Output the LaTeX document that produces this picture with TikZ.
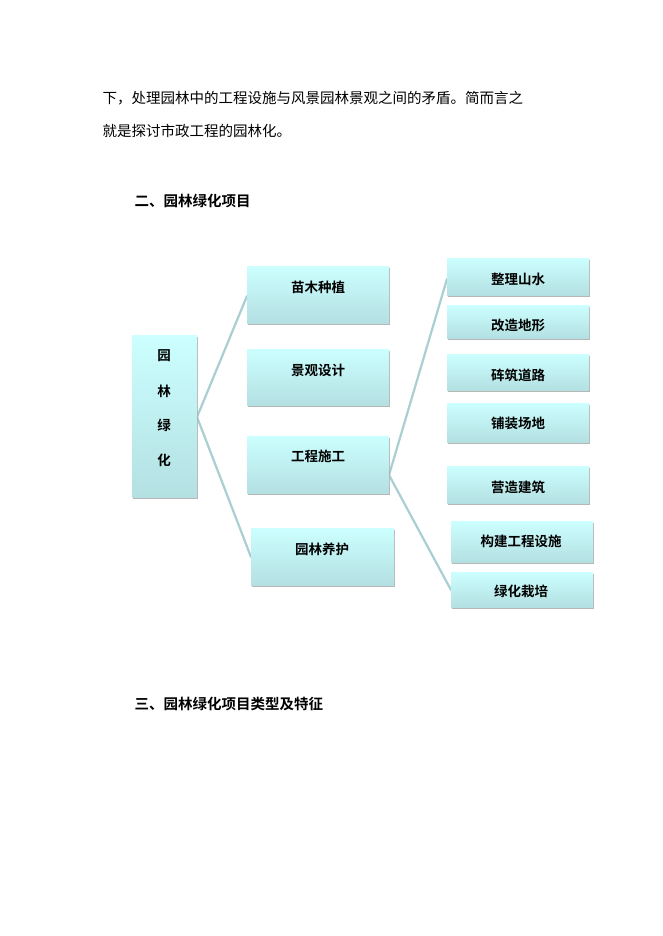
\documentclass[tikz,border=0pt]{standalone}
\usepackage{fontspec}
\setmainfont{Noto Sans CJK SC}
\newfontfamily\cjkbold{Noto Sans CJK SC Bold}
\usetikzlibrary{shadows}
\definecolor{boxtop}{HTML}{CCFFFF}
\definecolor{boxbot}{HTML}{B4E0E2}
\definecolor{linkcol}{HTML}{A9CFD3}
\tikzset{
  box/.style={inner sep=0pt,top color=boxtop,bottom color=boxbot,
    drop shadow={shadow xshift=0.8pt,shadow yshift=-1.5pt,fill=black!35,opacity=0.8}},
  boxtext/.style={font=\cjkbold\fontsize{13.5}{14}\selectfont},
  link/.style={draw=linkcol,line width=2.2pt}
}
\begin{document}
\begin{tikzpicture}[x=1pt,y=-1pt,line cap=round,line join=round]
\useasboundingbox[fill=white] (0,0) rectangle (662,936);
% body text
\node[anchor=west,font=\fontsize{14.5}{16}\selectfont] (para1) at (99,98) {下，处理园林中的工程设施与风景园林景观之间的矛盾。简而言之};
\node[anchor=west,font=\fontsize{14.5}{16}\selectfont] (para2) at (99,131) {就是探讨市政工程的园林化。};
\node[anchor=west,font=\cjkbold\fontsize{14.5}{16}\selectfont] (sec2) at (131,201) {二、园林绿化项目};
\node[anchor=west,font=\cjkbold\fontsize{14.5}{16}\selectfont] (sec3) at (131,704) {三、园林绿化项目类型及特征};
% links
\draw[link] (197,417) coordinate (rootout) -- (247,296) coordinate (in1);
\draw[link] (rootout) -- (251,557) coordinate (in4);
\draw[link] (389,475) coordinate (midout) -- (447,279) coordinate (inr1);
\draw[link] (midout) -- (451,590) coordinate (inr7);
% root
\path[box] (132,335) rectangle (197,497);
\node[boxtext] (root1) at (164,356) {园};
\node[boxtext] (root2) at (164,391) {林};
\node[boxtext] (root3) at (164,425) {绿};
\node[boxtext] (root4) at (164,460) {化};
% middle column
\path[box] (247,266) rectangle (389,323);
\node[boxtext] (mid1) at (318,287) {苗木种植};
\path[box] (247,349) rectangle (389,405);
\node[boxtext] (mid2) at (318,370) {景观设计};
\path[box] (247,436) rectangle (389,493);
\node[boxtext] (mid3) at (318,456) {工程施工};
\path[box] (251,528) rectangle (394,585);
\node[boxtext] (mid4) at (322,549) {园林养护};
% right column
\path[box] (447,258) rectangle (589,295);
\node[boxtext] (r1) at (518,279) {整理山水};
\path[box] (447,305) rectangle (589,338);
\node[boxtext] (r2) at (518,325) {改造地形};
\path[box] (447,354) rectangle (589,390);
\node[boxtext] (r3) at (518,375) {砗筑道路};
\path[box] (447,403) rectangle (589,442);
\node[boxtext] (r4) at (518,423) {铺装场地};
\path[box] (447,466) rectangle (589,503);
\node[boxtext] (r5) at (518,487) {营造建筑};
\path[box] (451,521) rectangle (593,562);
\node[boxtext] (r6) at (521,541) {构建工程设施};
\path[box] (451,572) rectangle (593,607);
\node[boxtext] (r7) at (521,591) {绿化栽培};
\end{tikzpicture}
\end{document}
